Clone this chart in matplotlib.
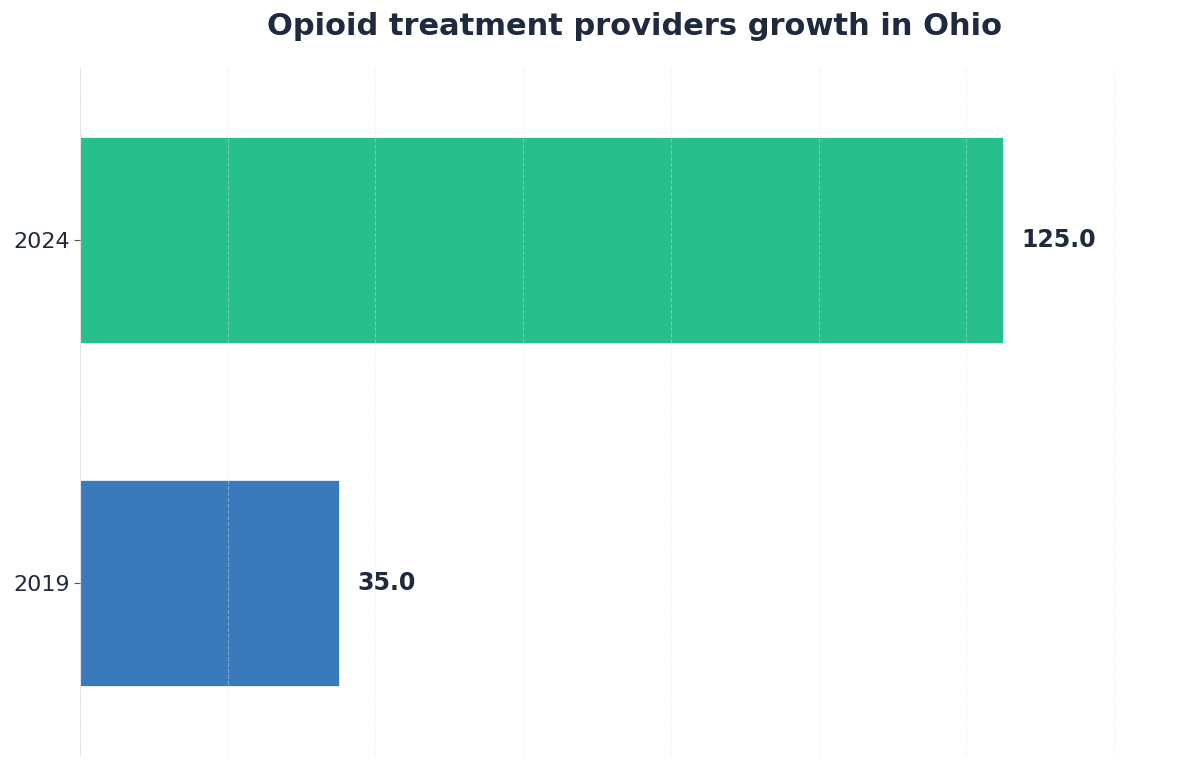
""" Opioid treatment providers, Ohio """
import numpy as np
from matplotlib import pyplot as plt

# Data
years = ['2019', '2024']
providers = [35.0, 125.0]
clrs = ['#3a7aba', '#27bf8c']

fig = plt.figure(figsize=(12, 7.68), dpi=100)
ax = fig.add_axes([0.0667, 0.017, 0.9233, 0.894])

ypos = np.arange(len(years))
ax.barh(ypos, providers, height=0.6, color=clrs, edgecolor='white',
        linewidth=0.5, zorder=1)

# Value labels
for yy, val in zip(ypos, providers):
    ax.text(val + 2.5, yy, f'{val:.1f}', va='center', ha='left',
            fontsize=17, fontweight='bold', color='#1f2a3c')

# Axes
ax.set_xlim(0, 150)
ax.set_ylim(-0.5, 1.5)
ax.set_yticks(ypos)
ax.set_yticklabels(years)
ax.set_xticks(np.arange(0, 150, 20))
ax.tick_params(axis='x', length=0, labelbottom=False)
ax.tick_params(axis='y', labelsize=16, labelcolor='#1f2a3c', color='#555555',
               length=4, width=0.8)

# Grid above the bars
ax.set_axisbelow(False)
ax.grid(axis='x', color='#e5e7eb', ls='--', lw=0.8, alpha=0.4, zorder=2)

for side in ['top', 'right', 'bottom']:
    ax.spines[side].set_visible(False)
ax.spines['left'].set_color('#e0e0e0')

ax.set_title('Opioid treatment providers growth in Ohio', fontsize=22,
             fontweight='bold', color='#1f2a3c', pad=24)

plt.savefig('out.png', dpi=100)
print('Saved out.png')
